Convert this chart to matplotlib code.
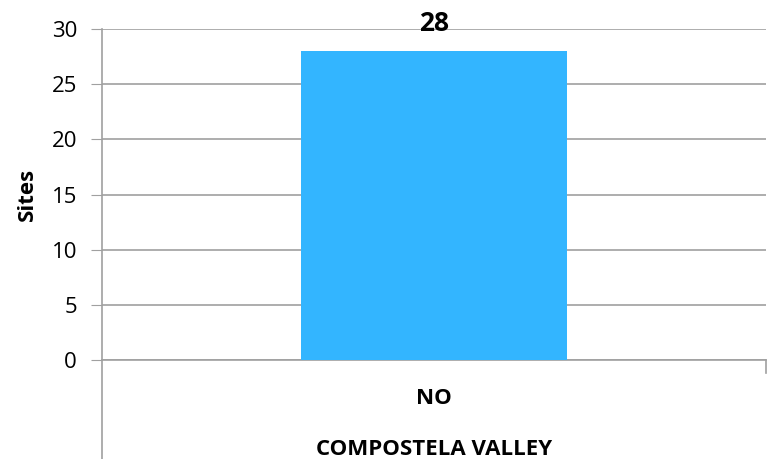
import numpy as np
import matplotlib
matplotlib.use("Agg")
import matplotlib.pyplot as plt

categories = ["NO"]
groups = ["COMPOSTELA VALLEY"]
sites = [28]
yticks = [0, 5, 10, 15, 20, 25, 30]

plt.rcParams['font.family'] = ['Open Sans', 'DejaVu Sans']

fig = plt.figure(figsize=(7.67, 4.59), dpi=100)
ax = fig.add_axes([0.133, 0.2157, 0.8657, 0.7211])

x = np.arange(len(categories))
bars = ax.bar(x, sites, width=0.4, color="#33B5FF", zorder=3)
for b, v in zip(bars, sites):
    ax.text(b.get_x() + b.get_width() / 2, v + 1.25, str(v), ha="center", va="bottom",
            fontsize=19, fontweight="bold", zorder=4)

ax.set_xlim(-0.5, len(categories) - 0.5)
ax.set_ylim(0, 30)
ax.set_yticks(yticks)
ax.tick_params(axis="y", labelsize=16, length=8, color="#A0A0A0", pad=10)
ax.tick_params(axis="x", length=0, labelbottom=False)
ax.grid(axis="y", color="#A0A0A0", linewidth=1.2, zorder=0)
ax.set_axisbelow(True)
for s in ["top", "right"]:
    ax.spines[s].set_visible(False)
ax.spines["left"].set_color("#A0A0A0")
ax.spines["bottom"].set_color("#A0A0A0")
ax.spines["left"].set_linewidth(1.2)
ax.spines["bottom"].set_linewidth(1.2)

ax.set_ylabel("Sites", fontsize=16, fontweight="bold", labelpad=10)

# category labels below the axis, Excel-style multi-level
trans = ax.get_xaxis_transform()
for xi, c in zip(x, categories):
    ax.text(xi, -0.115, c, transform=trans, ha="center", va="center",
            fontsize=16, fontweight="bold")
ax.text((len(categories) - 1) / 2, -0.27, groups[0], transform=trans,
        ha="center", va="center", fontsize=16, fontweight="bold")

# left line down the full height, short tick on right
ax.plot([-0.5, -0.5], [0, -0.33], transform=trans, color="#A0A0A0",
        linewidth=1.2, clip_on=False)
ax.plot([len(categories) - 0.5] * 2, [0, -0.04], transform=trans, color="#A0A0A0",
        linewidth=1.2, clip_on=False)

fig.savefig("out.png", dpi=100)
